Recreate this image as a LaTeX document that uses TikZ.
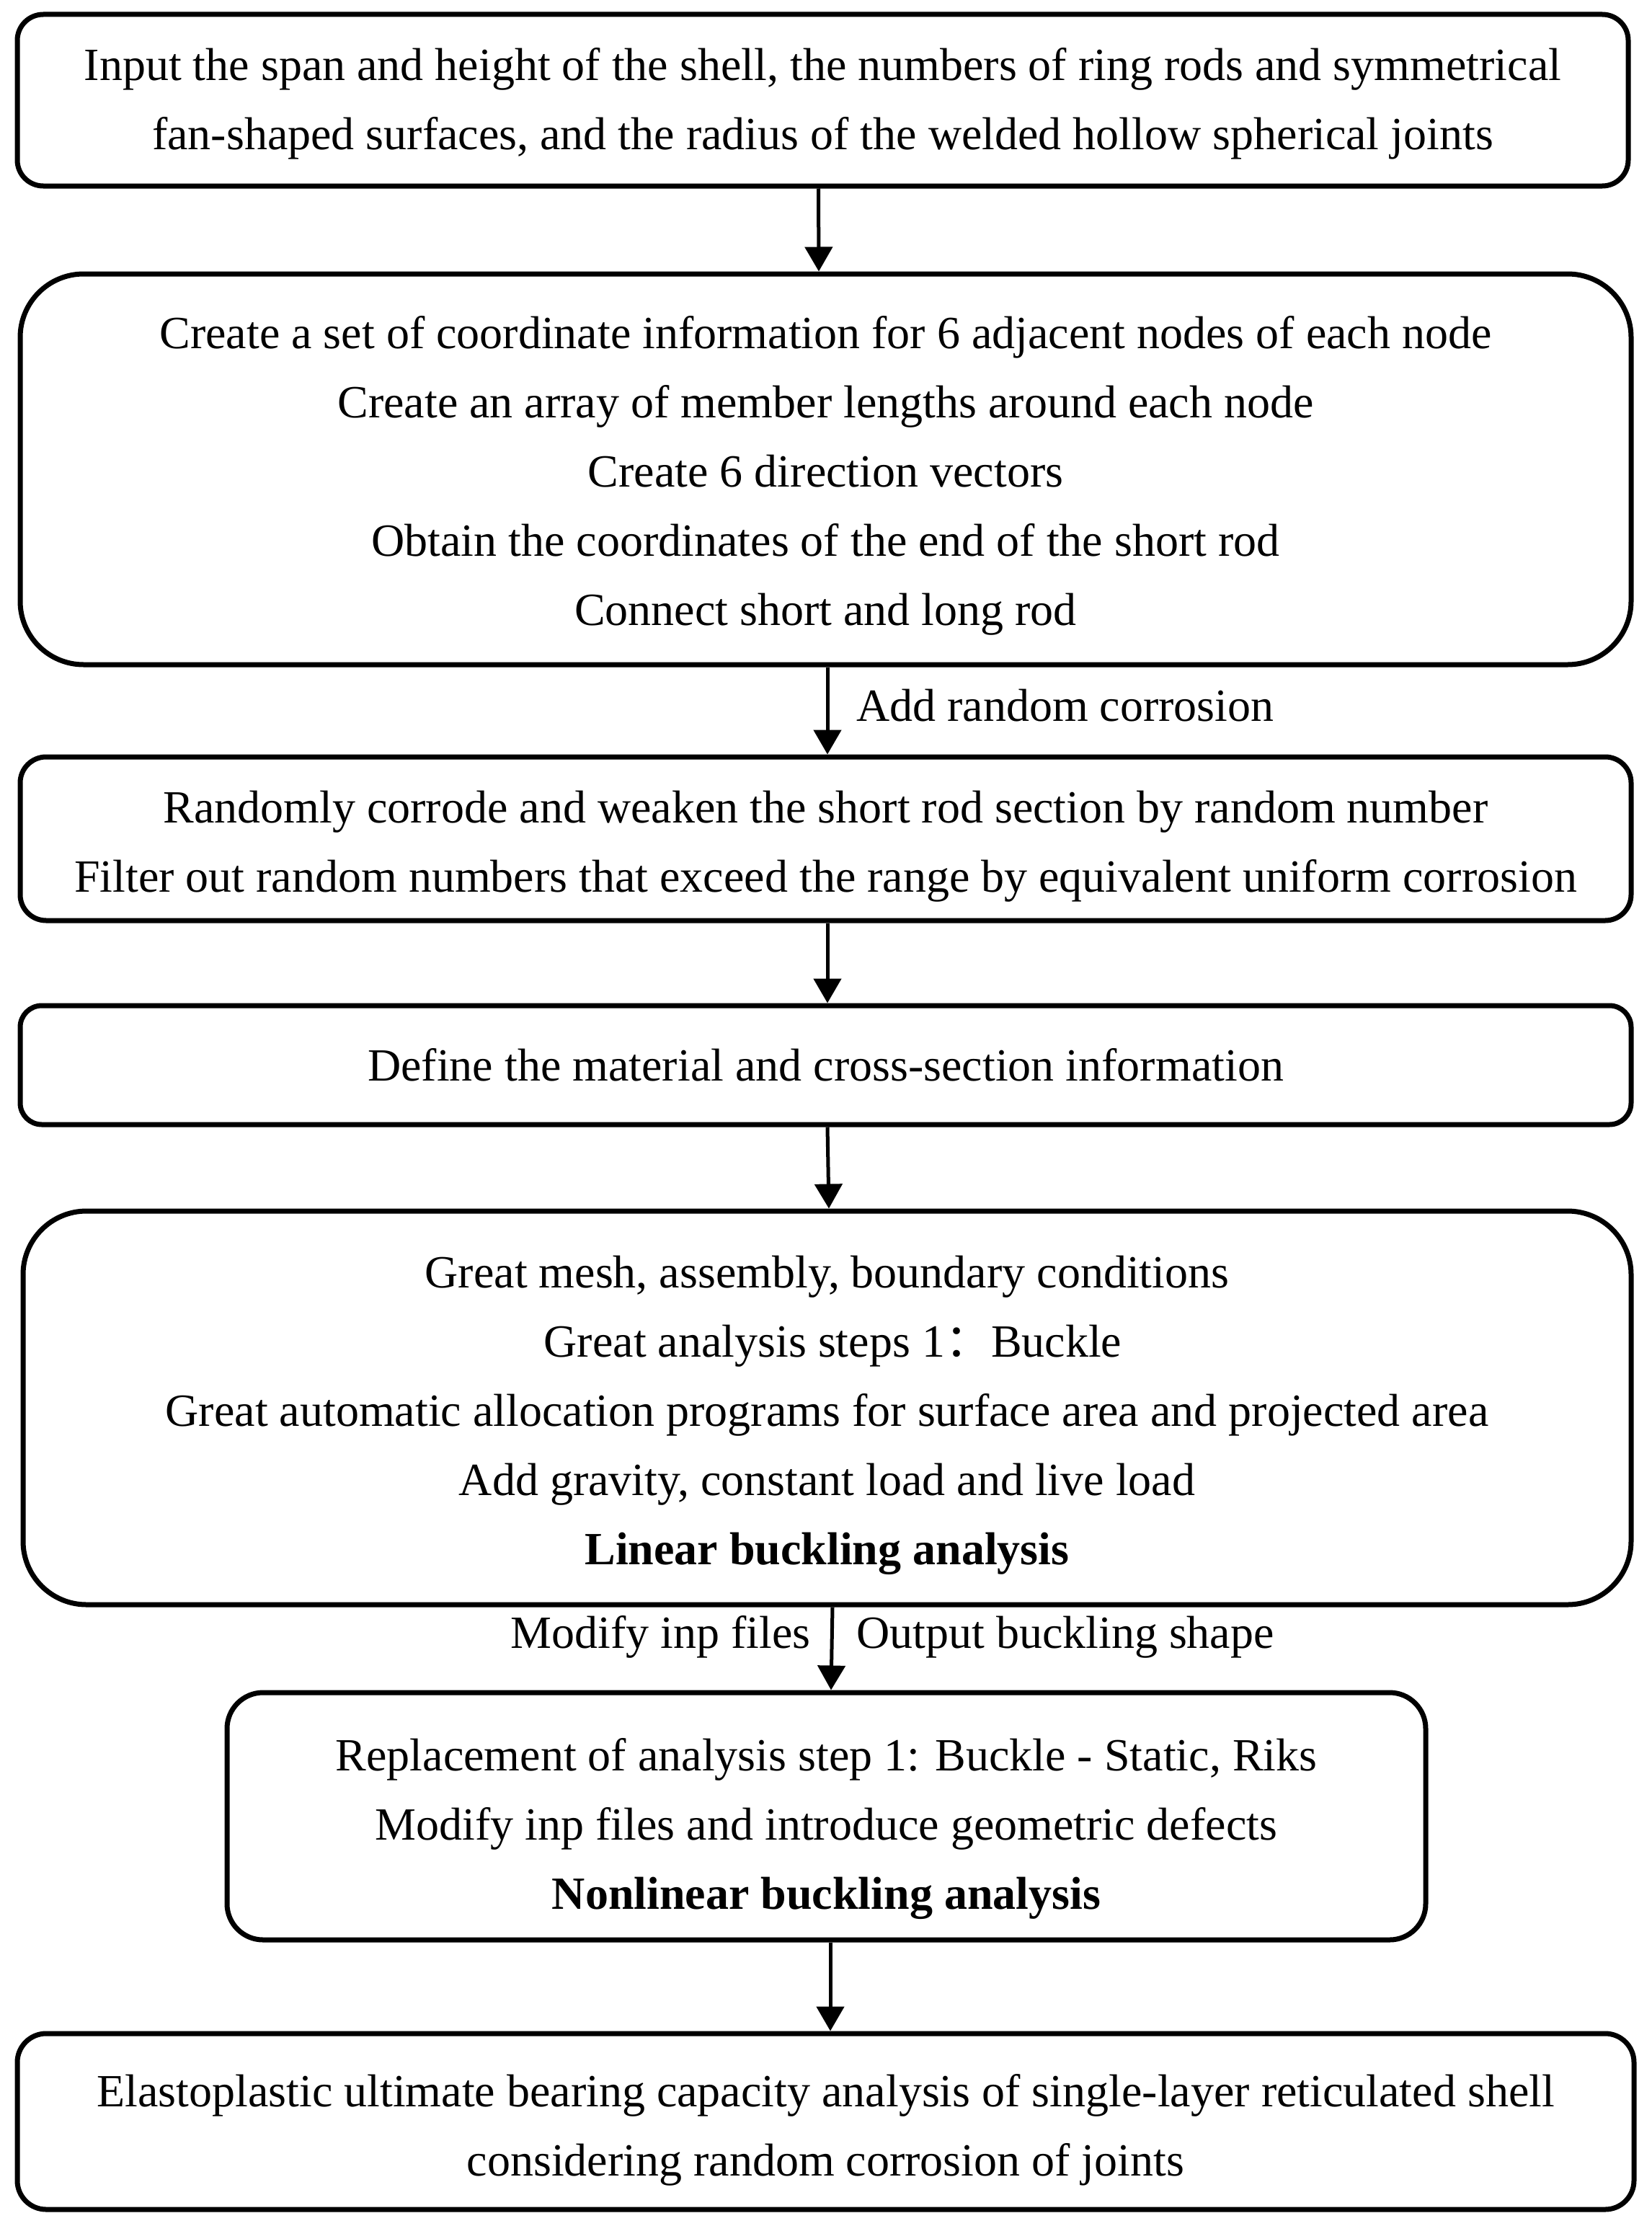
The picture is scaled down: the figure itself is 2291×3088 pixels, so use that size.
\documentclass[tikz,border=0pt]{standalone}
\usepackage{fontspec}
\setmainfont{Liberation Serif}
\newfontfamily\cjkfont{Noto Sans CJK SC}
\usetikzlibrary{arrows.meta}
\tikzset{
  box/.style={draw=black, line width=7pt, fill=white, inner sep=0pt},
  txt/.style={align=center, font=\fontsize{64}{96}\selectfont, inner sep=0pt},
  arr/.style={line width=5pt, -{Triangle[length=34pt,width=38pt]}},
  lbl/.style={font=\fontsize{64}{96}\selectfont, inner sep=0pt}
}
\begin{document}
\begin{tikzpicture}[x=1pt,y=-1pt]
\useasboundingbox (0,0) rectangle (2291,3088);
\node[box, minimum width=2235pt, minimum height=238pt, rounded corners=36pt] (b1) at (1141.5,139) {};
\node[txt] (t1) at ([yshift=-5pt]b1.center)
  {Input the span and height of the shell, the numbers of ring rods and symmetrical\\
   fan-shaped surfaces, and the radius of the welded hollow spherical joints};
\node[box, minimum width=2235pt, minimum height=542pt, rounded corners=88pt] (b2) at (1145.5,651) {};
\node[txt] (t2) at ([yshift=-9pt]b2.center)
  {Create a set of coordinate information for 6 adjacent nodes of each node\\
   Create an array of member lengths around each node\\
   Create 6 direction vectors\\
   Obtain the coordinates of the end of the short rod\\
   Connect short and long rod};
\node[box, minimum width=2235pt, minimum height=227pt, rounded corners=36pt] (b3) at (1145.5,1163.5) {};
\node[txt] (t3) at ([yshift=-11pt]b3.center)
  {Randomly corrode and weaken the short rod section by random number\\
   Filter out random numbers that exceed the range by equivalent uniform corrosion};
\node[box, minimum width=2235pt, minimum height=165pt, rounded corners=30pt] (b4) at (1145.5,1477.5) {};
\node[txt] (t4) at (b4.center)
  {Define the material and cross-section information};
\node[box, minimum width=2231pt, minimum height=546pt, rounded corners=88pt] (b5) at (1147.5,1953) {};
\node[txt] (t5) at ([yshift=-10pt]b5.center)
  {Great mesh, assembly, boundary conditions\\
   \hspace*{16pt}Great analysis steps 1{\cjkfont ：}Buckle\\
   Great automatic allocation programs for surface area and projected area\\
   Add gravity, constant load and live load\\
   \textbf{Linear buckling analysis}};
\node[box, minimum width=1663pt, minimum height=343pt, rounded corners=50pt] (b6) at (1146.5,2519.5) {};
\node[txt] (t6) at ([yshift=-17pt]b6.center)
  {Replacement of analysis step 1: Buckle - Static, Riks\\
   Modify inp files and introduce geometric defects\\
   \textbf{Nonlinear buckling analysis}};
\node[box, minimum width=2243pt, minimum height=244pt, rounded corners=40pt] (b7) at (1145.5,2943) {};
\node[txt] (t7) at ([yshift=-12pt]b7.center)
  {Elastoplastic ultimate bearing capacity analysis of single-layer reticulated shell\\
   considering random corrosion of joints};
\draw[arr] ([xshift=-6pt]b1.south) -- ([xshift=-9.5pt]b2.north);
\draw[arr] ([xshift=2.5pt]b2.south) -- ([xshift=2.5pt]b3.north);
\draw[arr] ([xshift=2.5pt]b3.south) -- ([xshift=2.5pt]b4.north);
\draw[arr] ([xshift=2.5pt]b4.south) -- ([xshift=2.5pt]b5.north);
\draw[arr] ([xshift=7.5pt]b5.south) -- ([xshift=6.5pt]b6.north);
\draw[arr] ([xshift=5.5pt]b6.south) -- ([xshift=6.5pt]b7.north);
\node[lbl, anchor=west] (l1) at (1188,979) {Add random corrosion};
\node[lbl, anchor=east] (l2) at (1125,2271) {Modify inp files};
\node[lbl, anchor=west] (l3) at (1188,2271) {Output buckling shape};
\end{tikzpicture}
\end{document}
